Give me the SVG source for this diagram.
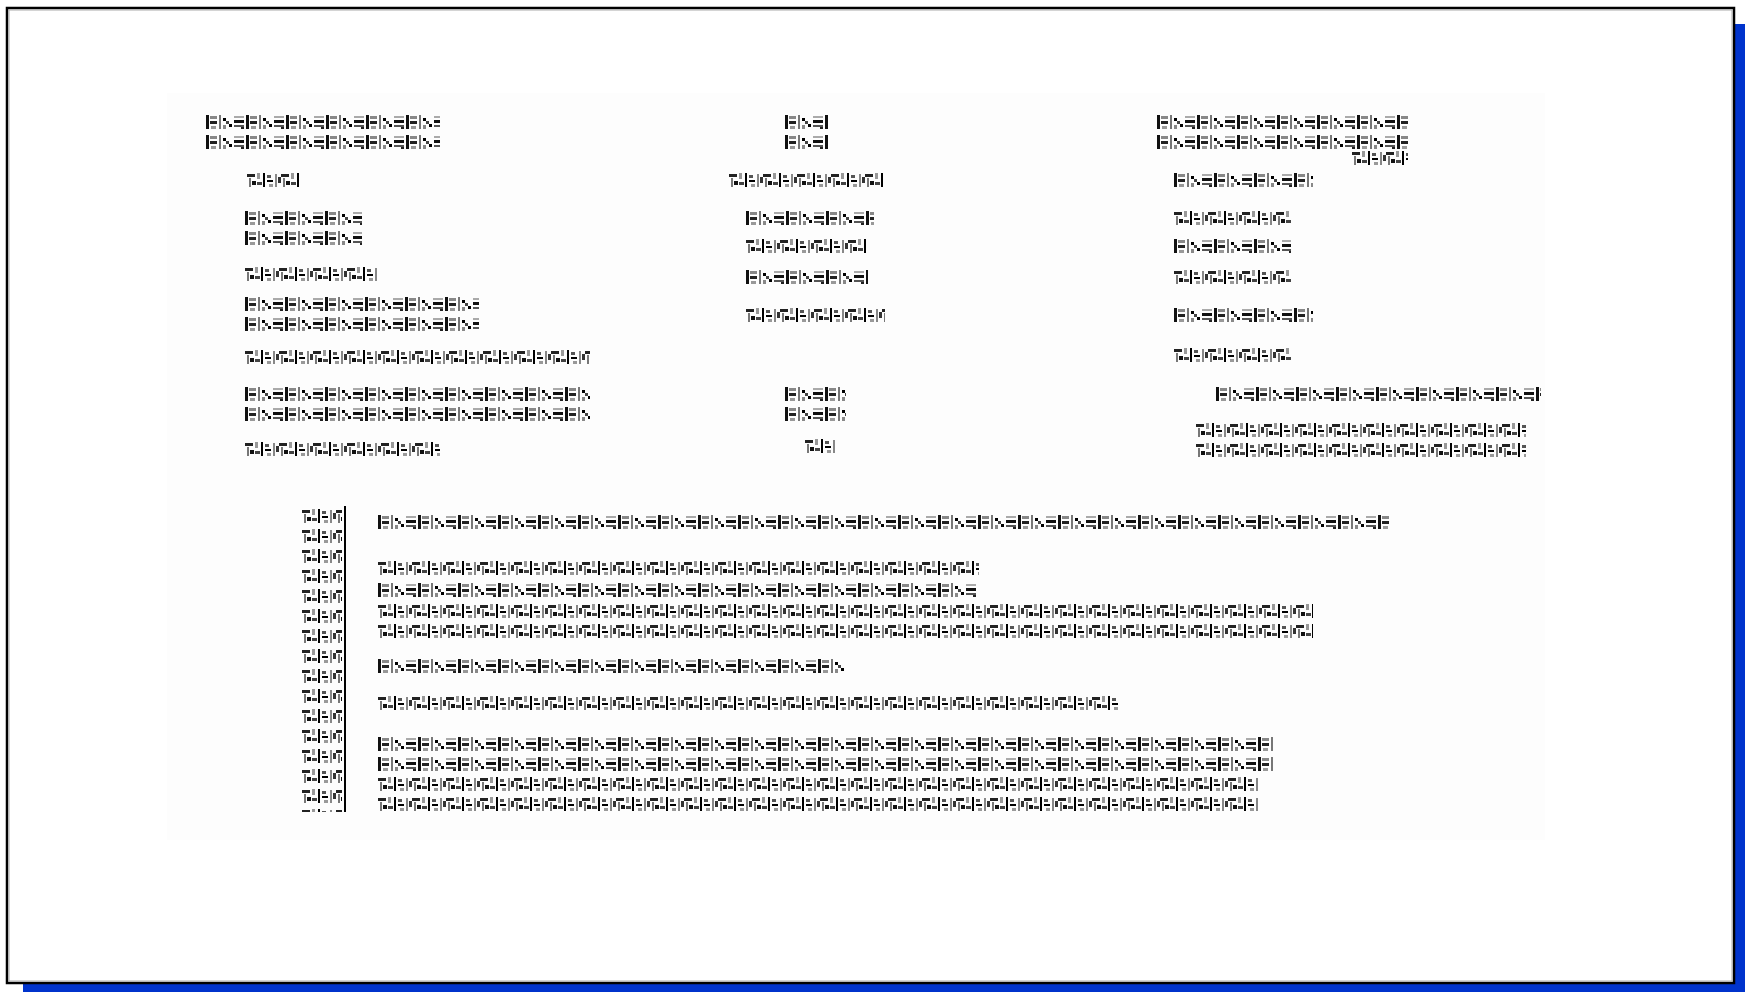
<svg xmlns="http://www.w3.org/2000/svg" width="1745" height="992" viewBox="0 0 1745 992">
  <defs>
    <pattern id="noise" patternUnits="userSpaceOnUse" width="40" height="20">
      <rect x="0" y="3" width="3" height="14" fill="#111"/>
      <rect x="4" y="4" width="7" height="3" fill="#888"/>
      <rect x="4" y="9" width="7" height="3" fill="#222"/>
      <rect x="5" y="14" width="5" height="3" fill="#999"/>
      <rect x="13" y="3" width="2" height="14" fill="#777"/>
      <rect x="17" y="6" width="3" height="3" fill="#000"/>
      <rect x="20" y="9" width="3" height="3" fill="#444"/>
      <rect x="23" y="12" width="3" height="3" fill="#000"/>
      <rect x="17" y="13" width="3" height="4" fill="#888"/>
      <rect x="28" y="4" width="10" height="2" fill="#aaa"/>
      <rect x="28" y="8" width="10" height="3" fill="#111"/>
      <rect x="28" y="13" width="10" height="2" fill="#555"/>
      <rect x="35" y="15" width="3" height="2" fill="#222"/>
    </pattern>
    <pattern id="noise2" patternUnits="userSpaceOnUse" width="34" height="20">
      <rect x="0" y="4" width="8" height="3" fill="#222"/>
      <rect x="2" y="8" width="2" height="9" fill="#777"/>
      <rect x="5" y="11" width="4" height="4" fill="#111"/>
      <rect x="10" y="3" width="3" height="6" fill="#999"/>
      <rect x="10" y="12" width="5" height="3" fill="#444"/>
      <rect x="16" y="3" width="2" height="14" fill="#000"/>
      <rect x="20" y="5" width="4" height="3" fill="#555"/>
      <rect x="20" y="10" width="6" height="2" fill="#000"/>
      <rect x="22" y="14" width="4" height="3" fill="#999"/>
      <rect x="28" y="4" width="2" height="13" fill="#888"/>
      <rect x="31" y="7" width="3" height="6" fill="#333"/>
    </pattern>
    <style>
      .g1 { fill: url(#noise); }
      .g2 { fill: url(#noise2); }
    </style>
  </defs>

  <rect x="0" y="0" width="1745" height="992" fill="#ffffff"/>
  <!-- shadow -->
  <rect x="23" y="24" width="1722" height="968" fill="#0033cc"/>
  <!-- frame -->
  <rect x="7" y="8" width="1727" height="975" fill="#ffffff" stroke="#000" stroke-width="2.5"/>
  <rect x="9" y="10" width="1723" height="971" fill="none" stroke="#aaa" stroke-width="1"/>
  <rect x="167" y="93" width="1378" height="747" fill="#fdfdfd"/>

  <g id="column-left">
    <rect class="g1" transform="translate(206 112)" width="234" height="40"/>
    <rect class="g2" transform="translate(247 170)" width="53" height="20"/>
    <rect class="g1" transform="translate(245 208)" width="117" height="40"/>
    <rect class="g2" transform="translate(245 264)" width="133" height="20"/>
    <rect class="g1" transform="translate(245 294)" width="234" height="40"/>
    <rect class="g2" transform="translate(245 347)" width="345" height="20"/>
    <rect class="g1" transform="translate(245 384)" width="345" height="40"/>
    <rect class="g2" transform="translate(245 439)" width="195" height="20"/>
  </g>

  <g id="column-middle">
    <rect class="g1" transform="translate(785 112)" width="44" height="40"/>
    <rect class="g2" transform="translate(729 170)" width="156" height="20"/>
    <rect class="g1" transform="translate(746 208)" width="128" height="20"/>
    <rect class="g2" transform="translate(746 236)" width="122" height="20"/>
    <rect class="g1" transform="translate(746 267)" width="122" height="20"/>
    <rect class="g2" transform="translate(746 305)" width="139" height="20"/>
    <rect class="g1" transform="translate(785 384)" width="61" height="40"/>
    <rect class="g2" transform="translate(805 436)" width="30" height="20"/>
  </g>

  <g id="column-right">
    <rect class="g1" transform="translate(1157 112)" width="251" height="40"/>
    <rect class="g2" transform="translate(1352 148)" width="56" height="20"/>
    <rect class="g1" transform="translate(1174 170)" width="139" height="20"/>
    <rect class="g2" transform="translate(1174 208)" width="117" height="20"/>
    <rect class="g1" transform="translate(1174 236)" width="117" height="20"/>
    <rect class="g2" transform="translate(1174 267)" width="117" height="20"/>
    <rect class="g1" transform="translate(1174 305)" width="139" height="20"/>
    <rect class="g2" transform="translate(1174 345)" width="117" height="20"/>
    <rect class="g1" transform="translate(1216 384)" width="325" height="20"/>
    <rect class="g2" transform="translate(1196 420)" width="330" height="40"/>
  </g>

  <g id="bottom-block">
    <rect class="g2" transform="translate(302 506)" width="40" height="306"/>
    <rect class="g1" transform="translate(378 512)" width="1013" height="20"/>
    <rect class="g2" transform="translate(378 558)" width="601" height="20"/>
    <rect class="g1" transform="translate(378 580)" width="600" height="20"/>
    <rect class="g2" transform="translate(378 601)" width="935" height="40"/>
    <rect class="g1" transform="translate(378 656)" width="468" height="20"/>
    <rect class="g2" transform="translate(378 693)" width="741" height="20"/>
    <rect class="g1" transform="translate(378 734)" width="896" height="40"/>
    <rect class="g2" transform="translate(378 774)" width="880" height="40"/>
  </g>

  <g id="connectors">
    <line x1="345" y1="506" x2="345" y2="812" stroke="#000" stroke-width="2"/>
  </g>
</svg>
